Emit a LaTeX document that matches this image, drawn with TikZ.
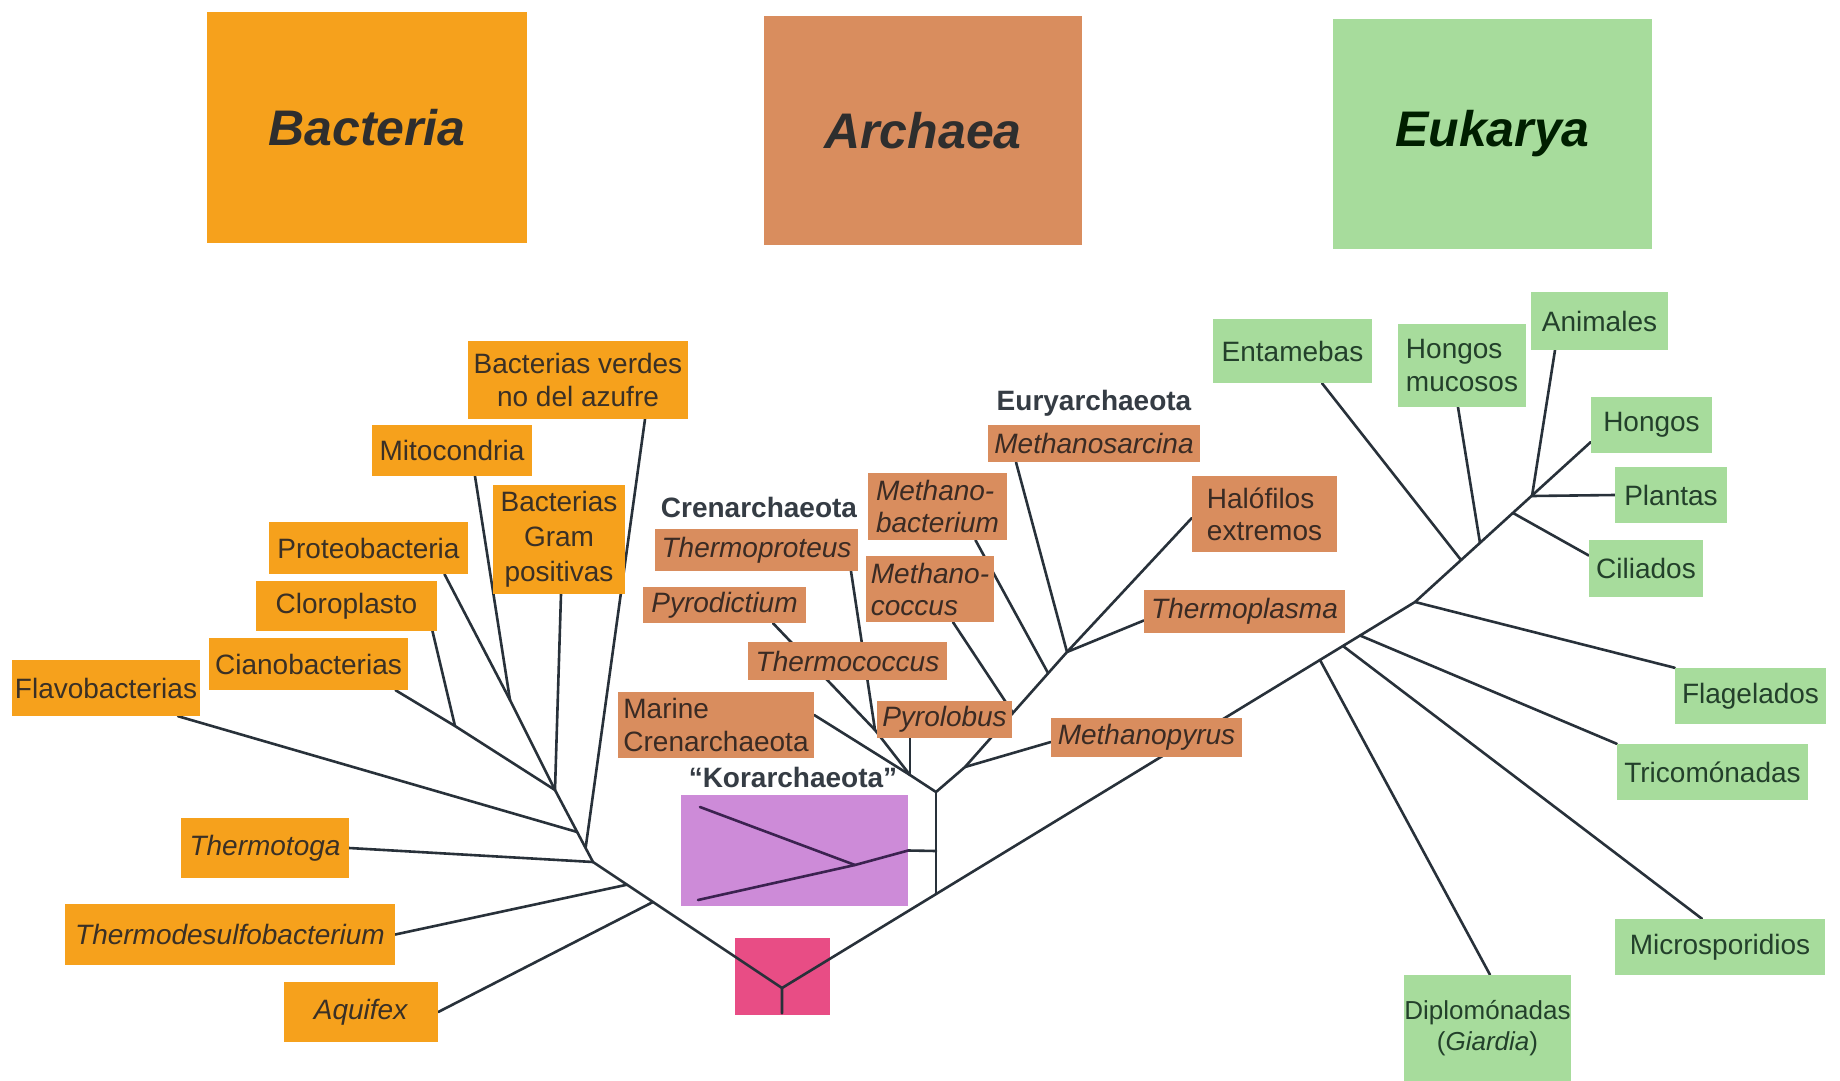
\documentclass[tikz,border=0pt]{standalone}
\usepackage{fontspec}
\setmainfont{Liberation Sans}
\usetikzlibrary{calc,backgrounds}
\definecolor{bacC}{HTML}{F6A11C}
\definecolor{arcC}{HTML}{D98D5E}
\definecolor{eukC}{HTML}{A7DC9C}
\definecolor{korC}{HTML}{CD8BD8}
\definecolor{rootC}{HTML}{E84D85}
\definecolor{lineC}{HTML}{28313A}
\definecolor{txtB}{HTML}{3A3026}
\definecolor{txtA}{HTML}{3A2B24}
\definecolor{txtE}{HTML}{23402B}
\definecolor{hdrC}{HTML}{353C44}
\definecolor{korL}{HTML}{3B2250}
\tikzset{
  lbl/.style={inner sep=0pt, font=\fontsize{28}{33}\selectfont, align=center},
  bac/.style={lbl, fill=bacC, text=txtB},
  arc/.style={lbl, fill=arcC, text=txtA},
  euk/.style={lbl, fill=eukC, text=txtE},
  big/.style={inner sep=0pt, font=\fontsize{50}{60}\selectfont\bfseries\itshape},
  hdr/.style={inner sep=0pt, font=\fontsize{28}{33}\selectfont\bfseries, text=hdrC},
  br/.style={draw=lineC, line width=2.6pt, line cap=round, line join=round},
  kl/.style={draw=korL, line width=2.6pt, line cap=round, line join=round},
}
\begin{document}
\begin{tikzpicture}[x=1pt,y=-1pt]
\useasboundingbox (0,0) rectangle (1840,1081);
% domain boxes
\node[big, fill=bacC, text=black!82, minimum width=320pt, minimum height=231pt] (bacteria) at (367,127.5) {Bacteria};
\node[big, fill=arcC, text=black!82, minimum width=318pt, minimum height=229pt] (archaea) at (923,130.5) {Archaea};
\node[big, fill=eukC, text=black!80!green!60!black, minimum width=319pt, minimum height=230pt] (eukarya) at (1492.5,134) {Eukarya};
% Bacteria labels
\node[bac, minimum width=220pt, minimum height=78pt] (verdes) at (578,380) {Bacterias verdes\\no del azufre};
\node[bac, minimum width=160pt, minimum height=51pt] (mito) at (452,450.5) {Mitocondria};
\node[bac, minimum width=132pt, minimum height=109pt, font=\fontsize{28}{35}\selectfont] (grampos) at (559,539.5) {Bacterias\\Gram\\positivas};
\node[bac, minimum width=199pt, minimum height=52pt] (proteo) at (368.5,548) {Proteobacteria};
\node[bac, minimum width=181pt, minimum height=50pt] (cloro) at (346.5,606) {Cloroplasto};
\node[bac, minimum width=199pt, minimum height=52pt] (ciano) at (308.5,664) {Cianobacterias};
\node[bac, minimum width=188pt, minimum height=56pt] (flavo) at (106,688) {Flavobacterias};
\node[bac, minimum width=168pt, minimum height=60pt] (tmotoga) at (265,848) {\textit{Thermotoga}};
\node[bac, minimum width=330pt, minimum height=61pt] (tdesulfo) at (230,934.5) {\textit{Thermodesulfobacterium}};
\node[bac, minimum width=154pt, minimum height=60pt] (aquifex) at (361,1012) {\textit{Aquifex}};
% Archaea labels
\node[hdr] (euryhdr) at (1094,403) {Euryarchaeota};
\node[hdr] (crenhdr) at (759,507) {Crenarchaeota};
\node[hdr] (korhdr) at (793,777) {“Korarchaeota”};
\node[arc, minimum width=212pt, minimum height=37pt] (msarc) at (1094,443.5) {\textit{Methanosarcina}};
\node[arc, minimum width=139pt, minimum height=67pt, align=left, font=\fontsize{28}{32}\selectfont] (mbact) at (937.5,506.5) {\textit{Methano-}\\\textit{bacterium}};
\node[arc, minimum width=145pt, minimum height=76pt, align=left, font=\fontsize{28}{32}\selectfont] (halo) at (1264.5,514) {Halófilos\\extremos};
\node[arc, minimum width=203pt, minimum height=42pt] (tprot) at (756.5,550) {\textit{Thermoproteus}};
\node[arc, minimum width=128pt, minimum height=66pt, align=left, font=\fontsize{28}{32}\selectfont] (mcoccus) at (930,589) {\textit{Methano-}\\\textit{coccus}};
\node[arc, minimum width=163pt, minimum height=36pt] (pyrod) at (724.5,605) {\textit{Pyrodictium}};
\node[arc, minimum width=201pt, minimum height=43pt] (tplasma) at (1244.5,611.5) {\textit{Thermoplasma}};
\node[arc, minimum width=199pt, minimum height=38pt] (tcoccus) at (847.5,661) {\textit{Thermococcus}};
\node[arc, minimum width=196pt, minimum height=66pt, align=left] (marine) at (716,725) {Marine\\Crenarchaeota};
\node[arc, minimum width=135pt, minimum height=37pt] (pyrolobus) at (944.5,719.5) {\textit{Pyrolobus}};
\node[arc, minimum width=191pt, minimum height=39pt] (mpyrus) at (1146.5,737.5) {\textit{Methanopyrus}};
% Eukarya labels
\node[euk, minimum width=159pt, minimum height=64pt] (entam) at (1292.5,351) {Entamebas};
\node[euk, minimum width=128pt, minimum height=83pt, align=left] (hmuc) at (1462,365.5) {Hongos\\mucosos};
\node[euk, minimum width=137pt, minimum height=58pt] (anim) at (1599.5,321) {Animales};
\node[euk, minimum width=121pt, minimum height=56pt] (hongos) at (1651.5,425) {Hongos};
\node[euk, minimum width=112pt, minimum height=56pt] (plantas) at (1671,495) {Plantas};
\node[euk, minimum width=114pt, minimum height=57pt] (cil) at (1646,568.5) {Ciliados};
\node[euk, minimum width=151pt, minimum height=56pt] (flag) at (1750.5,696) {Flagelados};
\node[euk, minimum width=191pt, minimum height=56pt] (tric) at (1712.5,772) {Tricomónadas};
\node[euk, minimum width=210pt, minimum height=56pt] (micro) at (1720,947) {Microsporidios};
\node[euk, minimum width=163pt, minimum height=106pt, font=\fontsize{26}{31}\selectfont] (diplo) at (1487.5,1028) {Diplomónadas\\(\textit{Giardia})};
% junctions
\coordinate (J0) at (782,988);
\coordinate (Ntt) at (593,862);
\coordinate (Ntd) at (627,884.7);
\coordinate (Naq) at (653,902);
\coordinate (Nb1) at (555,790);
\coordinate (Nfl) at (577.2,832);
\coordinate (Nbv) at (585.6,848);
\coordinate (Ncc) at (455,726);
\coordinate (Npm) at (510,700);
\coordinate (Efla) at (1415,602);
\coordinate (A0) at (936,894);
\coordinate (A1) at (936,792);
\coordinate (Kc) at (936,851);
\coordinate (K1) at (855,865);
\coordinate (C0) at (910,775);
\coordinate (E0) at (965,767);
\coordinate (Tn) at (875,730);
\coordinate (Etop) at (1067,652);
\coordinate (Mc) at (1013,713);
\coordinate (Mb) at (1048,673);
\coordinate (Edip) at (1320,660);
\coordinate (Emic) at (1343,646);
\coordinate (Etri) at (1360,635.5);
\coordinate (Eent) at (1461,560);
\coordinate (Ehm) at (1480,543);
\coordinate (Ecil) at (1513,513);
\coordinate (Epl) at (1532,496);
\coordinate (Kl1) at (700,807);
\coordinate (Kl2) at (698,900);
\begin{scope}[on background layer]
\fill[white] (0,0) rectangle (1840,1081);
\node[fill=rootC, inner sep=0pt, minimum width=95pt, minimum height=77pt] (pink) at (782,976.5) {};
\node[fill=korC, inner sep=0pt, minimum width=227pt, minimum height=111pt] (kor) at (794.5,850.5) {};
% Bacteria tree
\draw[br] ($(pink.south)+(0,-2)$) -- (J0) -- (Ntt) -- (Nb1);
\draw[br] (aquifex.east) -- (Naq);
\draw[br] (tdesulfo.east) -- (Ntd);
\draw[br] (tmotoga.east) -- (Ntt);
\draw[br] ($(flavo.south)+(72,0)$) -- (Nfl);
\draw[br] ($(verdes.south)+(67,0)$) -- (Nbv);
\draw[br] ($(grampos.south)+(2,0)$) -- (Nb1);
\draw[br] ($(proteo.south)+(76,0)$) -- (Npm);
\draw[br] ($(mito.south)+(23,0)$) -- (Npm);
\draw[br] (Npm) -- (Nb1);
\draw[br] ($(cloro.south)+(86,0)$) -- (Ncc);
\draw[br] ($(ciano.south)+(87,0)$) -- (Ncc);
\draw[br] (Ncc) -- (Nb1);
% main line to Eukarya
\draw[br] (J0) -- (Efla) -- ($(hongos.west)+(0,17)$);
% Archaea
\draw[br] (A0) -- (A1);
\draw[br] (kor.east) -- (Kc);
\draw[kl] (Kl1) -- (K1);
\draw[kl] (Kl2) -- (K1) -- (kor.east);
\draw[br] (C0) -- (A1) -- (E0);
\draw[br] ($(marine.east)+(0,-10)$) -- (C0);
\draw[br] ($(pyrolobus.south)+(-34.5,0)$) -- (C0);
\draw[br] (Tn) -- (C0);
\draw[br] ($(pyrod.south)+(48.5,0)$) -- (Tn);
\draw[br] ($(tprot.south)+(94.5,0)$) -- (Tn);
\draw[br] ($(mpyrus.west)+(0,4.5)$) -- (E0);
\draw[br] (E0) -- (Etop);
\draw[br] ($(mcoccus.south)+(23,0)$) -- (Mc);
\draw[br] ($(mbact.south)+(38,0)$) -- (Mb);
\draw[br] ($(msarc.south)+(-78,0)$) -- (Etop);
\draw[br] ($(halo.west)+(0,4)$) -- (Etop);
\draw[br] ($(tplasma.west)+(0,9)$) -- (Etop);
% Eukarya branches
\draw[br] (Edip) -- ($(diplo.north)+(2.5,0)$);
\draw[br] (Emic) -- ($(micro.north)+(-18,0)$);
\draw[br] (Etri) -- (tric.north west);
\draw[br] (Efla) -- (flag.north west);
\draw[br] (Eent) -- ($(entam.south)+(29.5,0)$);
\draw[br] (Ehm) -- ($(hmuc.south)+(-4,0)$);
\draw[br] (Ecil) -- ($(cil.west)+(0,-13)$);
\draw[br] (Epl) -- (plantas.west);
\draw[br] (Epl) -- ($(anim.south)+(-44.5,0)$);
\end{scope}
\end{tikzpicture}
\end{document}
